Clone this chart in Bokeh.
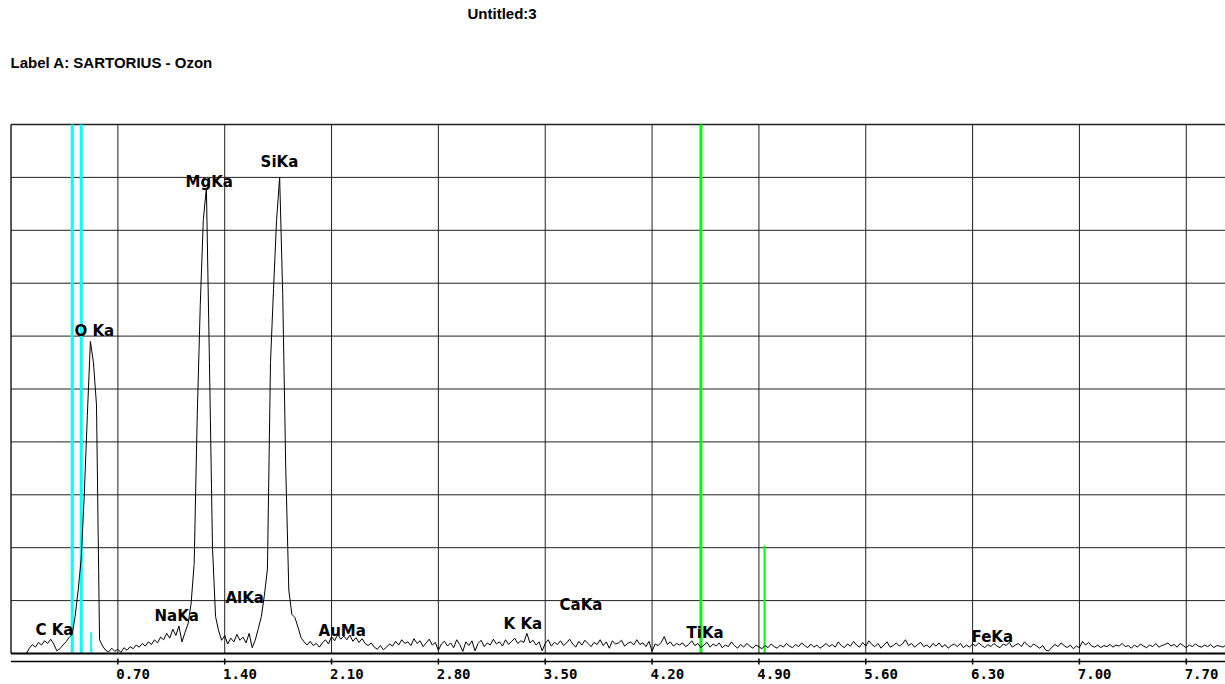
import numpy as np
from bokeh.plotting import figure
from bokeh.models import Range1d, FixedTicker, LinearAxis, ColumnDataSource
from bokeh.core.properties import value
from bokeh.embed import file_html
from bokeh.resources import INLINE

# ---------------- data ----------------
# spectrum intensity in % of full scale, one value every 0.02 keV starting at 0.00 keV
energy_step_kev = 0.02
counts_pct = [
    0, 0, 0, 0, 0, 0, 1.0, 1.7, 1.2, 2.1,                  # 0.00 - 0.18
    1.6, 2.4, 1.9, 2.7, 1.8, 0.5, 0.9, 1.6, 2.2, 3.0,      # 0.20 - 0.38
    3.6, 7.0, 12.0, 18.0, 30.0, 45.0, 59.0, 55.0, 47.0, 2.6,  # 0.40 - 0.58
    1.4, 0.6, 0.3, 1.0, 0.4, 0.8, 0.2, 1.1, 0.6, 1.3,      # 0.60 - 0.78
    0.9, 1.6, 1.2, 1.9, 1.4, 2.2, 1.7, 2.6, 2.0, 3.1,      # 0.80 - 0.98
    2.6, 3.8, 2.9, 4.6, 3.4, 5.2, 2.2, 4.0, 5.6, 9.5,      # 1.00 - 1.18
    17.0, 45.0, 66.0, 82.0, 88.0, 55.0, 20.0, 7.0, 4.3, 2.5,  # 1.20 - 1.38
    3.4, 1.8, 2.9, 2.2, 3.6, 2.5, 3.1, 2.0, 3.8, 1.1,      # 1.40 - 1.58
    2.5, 4.7, 7.0, 11.0, 16.0, 55.0, 69.0, 82.0, 90.0, 68.0,  # 1.60 - 1.78
    35.0, 12.0, 7.4, 6.8, 5.0, 3.0, 2.2, 1.6, 2.3, 1.5,    # 1.80 - 1.98
    1.9, 1.2, 2.0, 2.6, 1.8, 3.2, 2.4, 3.6, 2.7, 3.3,      # 2.00 - 2.18
    2.6, 3.5, 2.3, 3.0, 2.1, 2.8, 1.9, 1.5, 2.0, 1.2,      # 2.20 - 2.38
    0.8, 1.5, 0.7, 1.2, 1.8, 1.4, 2.3, 1.6, 2.6, 1.9,      # 2.40 - 2.58
    2.2, 1.5, 2.8, 1.9, 2.4, 1.3, 2.0, 2.7, 1.6, 2.1,      # 2.60 - 2.78
    0.6, 1.8, 2.3, 1.4, 2.0, 1.1, 2.6, 1.7, 0.4, 2.2,      # 2.80 - 2.98
    1.5, 2.4, 0.5, 1.9, 2.5, 1.3, 2.0, 1.6, 2.7, 1.8,      # 3.00 - 3.18
    2.2, 1.4, 2.6, 1.7, 2.3, 2.9, 1.9, 2.4, 2.1, 3.8,      # 3.20 - 3.38
    2.0, 2.5, 1.6, 2.2, 0.5, 1.9, 2.6, 1.4, 2.1, 1.7,      # 3.40 - 3.58
    2.4, 1.5, 2.0, 2.7, 1.8, 1.2, 2.3, 1.6, 2.5, 1.9,      # 3.60 - 3.78
    1.3, 2.1, 1.7, 2.6, 1.5, 2.2, 1.0, 2.4, 1.8, 2.0,      # 3.80 - 3.98
    2.5, 1.4, 1.9, 2.2, 1.6, 2.6, 1.7, 2.0, 1.3, 2.3,      # 4.00 - 4.18
    0.4, 1.8, 1.5, 2.1, 3.2, 1.7, 2.2, 1.4, 1.9, 1.6,      # 4.20 - 4.38
    2.0, 1.3, 1.7, 2.4, 1.5, 1.9, 1.1, 1.6, 2.1, 1.2,      # 4.40 - 4.58
    1.8, 1.4, 2.0, 1.1, 1.6, 1.3, 2.2, 1.5, 1.0, 1.7,      # 4.60 - 4.78
    1.2, 1.9, 1.4, 1.0, 1.6, 1.3, 0.9, 1.5, 1.1, 1.8,      # 4.80 - 4.98
    1.3, 1.0, 1.6, 1.2, 1.9, 1.4, 1.1, 1.7, 1.3, 2.0,      # 5.00 - 5.18
    1.5, 1.1, 1.8, 1.2, 1.6, 1.0, 1.4, 1.9, 1.3, 1.7,      # 5.20 - 5.38
    1.2, 2.2, 1.5, 1.1, 1.8, 1.4, 2.3, 1.6, 1.2, 2.1,      # 5.40 - 5.58
    1.4, 2.4, 1.7, 1.3, 1.9, 1.0, 1.6, 2.2, 1.2, 1.5,      # 5.60 - 5.78
    2.0, 1.4, 1.8, 2.6, 1.5, 1.9, 1.2, 1.7, 2.1, 1.3,      # 5.80 - 5.98
    1.6, 1.1, 1.9, 1.4, 2.0, 1.2, 1.7, 1.0, 1.5, 1.8,      # 6.00 - 6.18
    1.3, 1.9, 1.1, 1.6, 1.2, 1.8, 1.4, 2.0, 1.5, 1.1,      # 6.20 - 6.38
    1.7, 1.3, 1.9, 1.4, 1.1, 1.8, 1.5, 2.1, 1.2, 1.6,      # 6.40 - 6.58
    1.9, 1.3, 2.2, 1.6, 1.2, 1.8, 1.4, 1.0, 1.5, 0.6,      # 6.60 - 6.78
    0.5, 1.2, 1.7, 1.3, 2.0, 1.5, 1.1, 1.6, 0.9, 1.4,      # 6.80 - 6.98
    1.1, 2.3, 1.6, 2.1, 1.4, 1.2, 1.6, 1.1, 1.5, 1.3,      # 7.00 - 7.18
    1.7, 1.2, 1.6, 1.4, 1.9, 1.3, 1.5, 1.0, 1.6, 1.2,      # 7.20 - 7.38
    1.8, 1.4, 1.1, 1.6, 1.3, 1.9, 1.2, 1.5, 1.7, 2.0,      # 7.40 - 7.58
    1.4, 1.7, 1.2, 1.9, 1.5, 1.1, 1.6, 1.3, 1.8, 1.4,      # 7.60 - 7.78
    1.2, 1.6, 1.3, 1.7, 1.1, 1.5, 1.4, 1.2, 1.6, 1.3,      # 7.80 - 7.98
]
energy_kev = [round(i * energy_step_kev, 2) for i in range(len(counts_pct))]

# element labels
peak_names = ["C Ka", "O Ka", "NaKa", "MgKa", "AlKa", "SiKa", "AuMa", "K Ka", "CaKa", "TiKa", "FeKa"]
label_kev = [0.160, 0.416, 0.940, 1.143, 1.405, 1.635, 2.015, 3.227, 3.594, 4.426, 6.293]
label_level = [4.5, 60.9, 7.0, 89.2, 10.4, 93.0, 4.2, 5.5, 9.1, 3.8, 3.2]

# marker lines (energy, height in % of full scale)
cyan_marker_kev = [0.401, 0.460, 0.525]
cyan_marker_top = [100.0, 100.0, 4.0]
green_marker_kev = [4.520, 4.937]
green_marker_top = [100.0, 20.4]

# x axis
tick_kev = [0.70, 1.40, 2.10, 2.80, 3.50, 4.20, 4.90, 5.60, 6.30, 7.00, 7.70]
tick_labels = ["0.70", "1.40", "2.10", "2.80", "3.50", "4.20", "4.90", "5.60", "6.30", "7.00", "7.70"]

title_text = "Untitled:3"
subtitle_text = "Label A: SARTORIUS  -  Ozon"

# ---------------- figure ----------------
# frame covers the page from the top down to just below the axis line;
# the title lines sit above 100 % in the same frame.
PX_PER_U = 5.29
X0, X1 = -0.01, 7.957
Y0, Y1 = -12.0 / PX_PER_U, 653.0 / PX_PER_U

p = figure(width=1225, height=684, output_backend="svg", toolbar_location=None,
           x_range=Range1d(X0, X1), y_range=Range1d(Y0, Y1),
           x_axis_location=None, y_axis_location=None, title_location=None,
           min_border_left=9, min_border_right=0, min_border_top=0, min_border_bottom=19)
p.outline_line_color = None
p.grid.visible = False
p.background_fill_color = "white"
p.border_fill_color = "white"

GRID = "#202020"
# horizontal grid lines and frame border lines
hgrid = [10, 20, 30, 40, 50, 60, 70, 80, 90]
p.segment(x0=[0] * len(hgrid), x1=[X1] * len(hgrid), y0=hgrid, y1=hgrid,
          line_color=GRID, line_width=1)
p.segment(x0=[0], x1=[X1], y0=[100], y1=[100], line_color=GRID, line_width=1.3)
p.segment(x0=[0], x1=[0], y0=[0], y1=[100], line_color=GRID, line_width=1.5)
# vertical grid lines at the ticks
p.segment(x0=tick_kev, x1=tick_kev, y0=[0] * len(tick_kev), y1=[100] * len(tick_kev),
          line_color=GRID, line_width=1)

# marker bars
p.segment(x0=cyan_marker_kev[:2], x1=cyan_marker_kev[:2], y0=[0, 0], y1=cyan_marker_top[:2],
          line_color="#00FFFF", line_width=3)
p.segment(x0=cyan_marker_kev[2:], x1=cyan_marker_kev[2:], y0=[0], y1=cyan_marker_top[2:],
          line_color="#00FFFF", line_width=2)
p.segment(x0=green_marker_kev[:1], x1=green_marker_kev[:1], y0=[0], y1=green_marker_top[:1],
          line_color="#00FF00", line_width=3)
p.segment(x0=green_marker_kev[1:], x1=green_marker_kev[1:], y0=[0], y1=green_marker_top[1:],
          line_color="#00FF00", line_width=2)

# spectrum
src = ColumnDataSource(dict(e=energy_kev, c=counts_pct))
p.line("e", "c", source=src, line_color="black", line_width=1)

# bottom frame line
p.segment(x0=[0], x1=[X1], y0=[0], y1=[0], line_color="black", line_width=2)

# axis line and tick marks (drawn inside the frame, below the baseline)
AX_Y = -8.0 / PX_PER_U
p.segment(x0=[0], x1=[X1], y0=[AX_Y], y1=[AX_Y], line_color="black", line_width=1.5)
p.segment(x0=tick_kev, x1=tick_kev, y0=[-5.0 / PX_PER_U] * len(tick_kev),
          y1=[-11.0 / PX_PER_U] * len(tick_kev), line_color="black", line_width=1.5)

# element labels
lab_src = ColumnDataSource(dict(x=label_kev, y=label_level, t=peak_names))
p.text("x", "y", text="t", source=lab_src, text_align="left", text_baseline="middle",
       text_font=value("DejaVu Sans"), text_font_style="bold", text_font_size="15px",
       text_color="black")

# header lines
p.text(x=[-0.003], y=[(653.0 - 62.0) / PX_PER_U], text=[subtitle_text],
       text_align="left", text_baseline="middle", text_font=value("Liberation Sans"),
       text_font_style="bold", text_font_size="15px", text_color="black")
p.text(x=[2.991], y=[(653.0 - 13.0) / PX_PER_U], text=[title_text],
       text_align="left", text_baseline="middle", text_font=value("Liberation Sans"),
       text_font_style="bold", text_font_size="15px", text_color="black")

# tick labels: drawn by an axis whose ticks sit a little to the right of the grid lines
LABEL_SHIFT = 0.10
label_pos = [round(t + LABEL_SHIFT, 3) for t in tick_kev]
lab_axis = LinearAxis(ticker=FixedTicker(ticks=label_pos),
                      major_label_overrides={pos: txt for pos, txt in zip(label_pos, tick_labels)},
                      axis_line_color=None, major_tick_line_color=None, minor_tick_line_color=None,
                      major_tick_in=0, major_tick_out=0, major_label_standoff=3,
                      major_label_text_font="DejaVu Sans Mono", major_label_text_font_style="bold",
                      major_label_text_font_size="14px", major_label_text_color="black")
p.add_layout(lab_axis, "below")

open("out.html", "w").write(file_html(p, INLINE))
